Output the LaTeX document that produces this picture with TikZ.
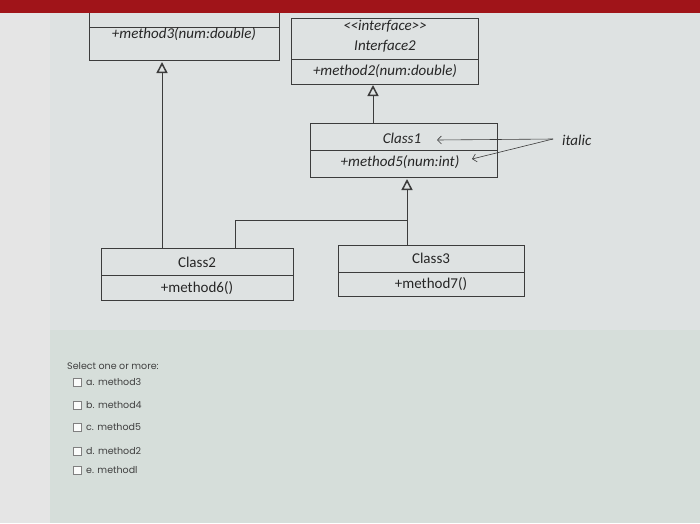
\documentclass[tikz,border=0pt]{standalone}
\usepackage{fontspec}
\setmainfont{Carlito}
\newfontfamily\optfont{Poppins}
\usetikzlibrary{arrows.meta}
\definecolor{bgc}{RGB}{222,226,226}
\definecolor{bgl}{RGB}{214,222,218}
\definecolor{barc}{RGB}{160,20,25}
\definecolor{ln}{RGB}{60,60,60}
\begin{document}
\begin{tikzpicture}[x=1pt,y=-1pt,
  box/.style={draw=ln,line width=0.9pt},
  tx/.style={font=\fontsize{15}{16}\selectfont\itshape,text=black!85,inner sep=0},
  tn/.style={font=\fontsize{15}{16}\selectfont,text=black!85,inner sep=0},
  inh/.style={draw=ln,line width=0.6pt,-{Triangle[open,width=11pt,length=11pt,line width=1.5pt]}},
  opt/.style={font=\optfont\fontsize{9.5}{10}\selectfont,text=black!75,anchor=west,inner sep=0},
  cb/.style={draw=black!50,fill=white!90!bgl,minimum size=8pt,inner sep=0}]
\useasboundingbox (0,0) rectangle (700,523);
\fill[bgc] (0,0) rectangle (700,523);
\fill[bgl] (0,330) rectangle (700,523);
\fill[black!10] (0,0) rectangle (50,523);
\fill[barc] (0,0) rectangle (700,13);
% top-left box
\draw[box] (89,13) -- (89,60) -- (279,60) -- (279,13);
\draw[box] (89,27) -- (279,27);
\node[tx] (m3) at (184,34) {+method3(num:double)};
\coordinate (A) at (162,62);
% Interface2
\draw[box] (291,18) rectangle (478,84);
\draw[box] (291,59) -- (478,59);
\node[tx] (st) at (385,26) {{<}{<}interface{>}{>}};
\node[tx] (i2) at (385,46) {Interface2};
\node[tx] (m2) at (385,71) {+method2(num:double)};
\coordinate (B) at (373,85);
% Class1
\draw[box] (310,123) rectangle (497,177);
\draw[box] (310,150) -- (497,150);
\node[tx] (c1) at (402,138) {Class1};
\node[tx] (m5) at (400,162) {+method5(num:int)};
\coordinate (C) at (407,179);
% Class2
\draw[box] (101,248) rectangle (293,300);
\draw[box] (101,275) -- (293,275);
\node[tn] (c2) at (197,262) {Class2};
\node[tn] (m6) at (197,288) {+method6()};
% Class3
\draw[box] (338,245) rectangle (524,296);
\draw[box] (338,272) -- (524,272);
\node[tn] (c3) at (431,258) {Class3};
\node[tn] (m7) at (431,284) {+method7()};
% inheritance
\coordinate (c2t) at (162,248);
\coordinate (c2b) at (235,248);
\coordinate (c3t) at (407,245);
\draw[inh] (c2t) -- (A);
\draw[inh] (373,123) -- (B);
\draw[inh] (c3t) -- (C);
\draw[draw=ln,line width=0.6pt] (c2b) |- (407,220);
% italic annotation
\node[tx,anchor=west] (it) at (562,140) {italic};
\coordinate (itl) at (553,139);
\draw[ln,line width=0.6pt,-{Straight Barb[length=4pt]}] (itl) -- (437,140);
\draw[ln,line width=0.6pt,-{Straight Barb[length=4pt]}] (itl) -- (472,159);
% options
\node[opt] (sel) at (67,366) {Select one or more:};
\foreach \y/\t [count=\i] in {382/a. method3,405/b. method4,427/c. method5,451/d. method2,470/e. methodl}{
  \node[cb] (b\i) at (77,\y) {};
  \node[opt] (o\i) at (86,\y) {\t};
}
\end{tikzpicture}
\end{document}
